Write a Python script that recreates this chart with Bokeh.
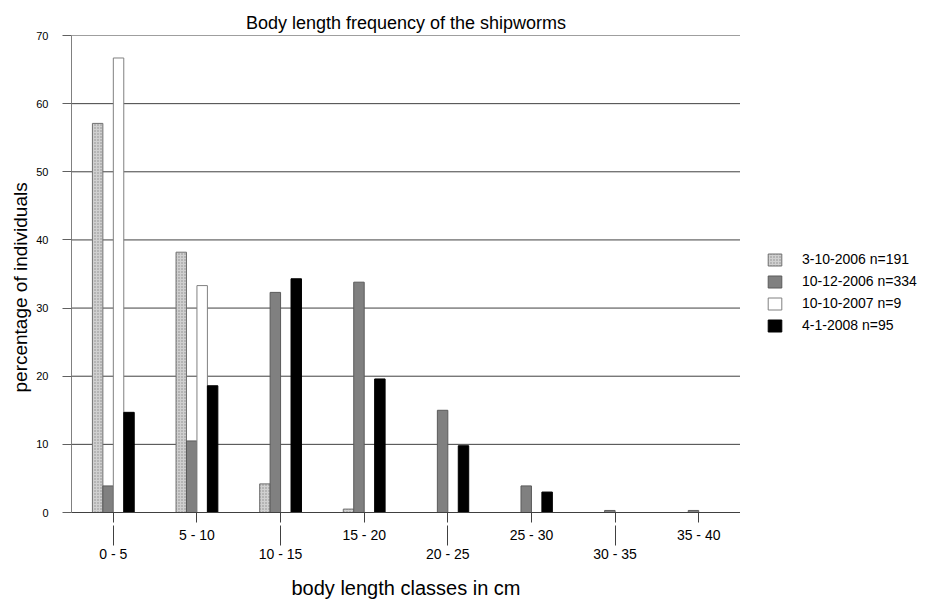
from bokeh.plotting import figure
from bokeh.layouts import row
from bokeh.models import (LinearAxis, FixedTicker, Range1d, Legend, LegendItem,
                          ColumnDataSource, Title)
from bokeh.embed import file_html
from bokeh.resources import INLINE

# ---- data ----
categories = ["0 - 5", "5 - 10", "10 - 15", "15 - 20", "20 - 25", "25 - 30", "30 - 35", "35 - 40"]
series_names = ["3-10-2006 n=191", "10-12-2006 n=334", "10-10-2007 n=9", "4-1-2008 n=95"]
s_2006a = [57.1, 38.2, 4.2, 0.5, 0, 0, 0, 0]
s_2006b = [3.9, 10.5, 32.3, 33.8, 15.0, 3.9, 0.3, 0.3]
s_2007 = [66.7, 33.3, 0, 0, 0, 0, 0, 0]
s_2008 = [14.7, 18.6, 34.3, 19.6, 9.8, 3.0, 0, 0]
y_ticks = [0, 10, 20, 30, 40, 50, 60, 70]

FONT = "Liberation Sans"

W_MAIN, W_LEG, H = 740, 180, 601
n_cat = len(categories)

p = figure(width=W_MAIN, height=H, x_range=Range1d(0, n_cat), y_range=Range1d(0, 70),
           output_backend="svg", toolbar_location=None,
           x_axis_location=None, y_axis_location=None,
           min_border_left=71, min_border_right=0, min_border_top=35, min_border_bottom=89)
p.outline_line_color = None
p.background_fill_color = "white"
p.xgrid.visible = False
p.ygrid.visible = False

# title
p.title.text = "Body length frequency of the shipworms"
p.title.align = "center"
p.title.vertical_align = "top"
p.title.standoff = 2
p.title.text_font = FONT
p.title.text_font_size = "18px"
p.title.text_font_style = "normal"
p.title.text_color = "black"

# y axis
yax = LinearAxis(ticker=FixedTicker(ticks=y_ticks))
yax.major_label_text_font = FONT
yax.major_label_text_font_size = "11px"
yax.major_label_text_color = "black"
yax.major_label_standoff = 14
yax.major_tick_out = 9
yax.major_tick_in = 0
yax.minor_tick_out = 0
yax.minor_tick_in = 0
yax.axis_line_color = "#808080"
yax.major_tick_line_color = "#606060"
p.add_layout(yax, "left")

ylab = Title(text="percentage of individuals", align="left", offset=120, standoff=6,
             text_font=FONT, text_font_size="19px", text_font_style="normal", text_color="black")
p.add_layout(ylab, "left")

# x axes (staggered labels)
centers = [i + 0.5 for i in range(n_cat)]
upper = {c: (lab if i % 2 == 1 else "") for i, (c, lab) in enumerate(zip(centers, categories))}
lower = {c: lab for i, (c, lab) in enumerate(zip(centers, categories)) if i % 2 == 0}

xa = LinearAxis(ticker=FixedTicker(ticks=centers))
xa.major_label_overrides = upper
xa.major_label_text_font = FONT
xa.major_label_text_font_size = "14px"
xa.major_label_text_color = "black"
xa.major_label_standoff = 4
xa.major_tick_out = 10
xa.major_tick_in = 0
xa.minor_tick_out = 0
xa.minor_tick_in = 0
xa.axis_line_color = "#404040"
xa.major_tick_line_color = "#404040"
p.add_layout(xa, "below")

xb = LinearAxis(ticker=FixedTicker(ticks=list(lower.keys())))
xb.major_label_overrides = lower
xb.major_label_text_font = FONT
xb.major_label_text_font_size = "14px"
xb.major_label_text_color = "black"
xb.major_label_standoff = 0
xb.major_tick_out = 0
xb.major_tick_in = 20
xb.minor_tick_out = 0
xb.minor_tick_in = 0
xb.axis_line_color = None
xb.major_tick_line_color = "#404040"
xb.axis_label = "body length classes in cm"
xb.axis_label_text_font = FONT
xb.axis_label_text_font_size = "20px"
xb.axis_label_text_font_style = "normal"
xb.axis_label_text_color = "black"
xb.axis_label_standoff = 12
p.add_layout(xb, "below")

# horizontal grid lines
gy = [t for t in y_ticks if t > 0]
p.segment(x0=[0] * len(gy), x1=[n_cat] * len(gy), y0=gy, y1=gy, line_color="#404040", line_width=1)

# bars
bar_w = 0.125
offsets = [-0.1875, -0.0625, 0.0625, 0.1875]
series = [s_2006a, s_2006b, s_2007, s_2008]
styles = [
    dict(fill_color="#d0d0d0", line_color="#707070", hatch_pattern="dot", hatch_color="#8a8a8a",
         hatch_scale=3, hatch_weight=1),
    dict(fill_color="#808080", line_color="#5a5a5a"),
    dict(fill_color="white", line_color="#808080"),
    dict(fill_color="black", line_color="black"),
]
sources = []
for vals, off, st in zip(series, offsets, styles):
    src = ColumnDataSource(dict(x=[c + off for c in centers], top=vals))
    sources.append(src)
    p.vbar(x="x", top="top", bottom=0, width=bar_w, source=src, line_width=1, **st)

# legend panel (separate figure to the right; its x range lies outside the data,
# so only the legend is visible there)
lf = figure(width=W_LEG, height=H, x_range=Range1d(-2, -1), y_range=Range1d(0, 70),
            output_backend="svg", toolbar_location=None,
            x_axis_location=None, y_axis_location=None,
            min_border_left=0, min_border_right=0, min_border_top=35, min_border_bottom=89)
lf.outline_line_color = None
lf.xgrid.visible = False
lf.ygrid.visible = False
items = []
for src, st, name in zip(sources, styles, series_names):
    r = lf.vbar(x="x", top="top", bottom=0, width=bar_w, source=src, line_width=1, **st)
    items.append(LegendItem(label=name, renderers=[r]))

leg = Legend(items=items, location=(26, 179))
leg.border_line_color = None
leg.background_fill_alpha = 0
leg.padding = 0
leg.margin = 0
leg.glyph_width = 17
leg.glyph_height = 15
leg.label_height = 15
leg.spacing = 6
leg.label_standoff = 19
leg.label_text_font = FONT
leg.label_text_font_size = "14px"
leg.label_text_color = "black"
lf.add_layout(leg)

layout = row(p, lf)
open("out.html", "w").write(file_html(layout, INLINE))
